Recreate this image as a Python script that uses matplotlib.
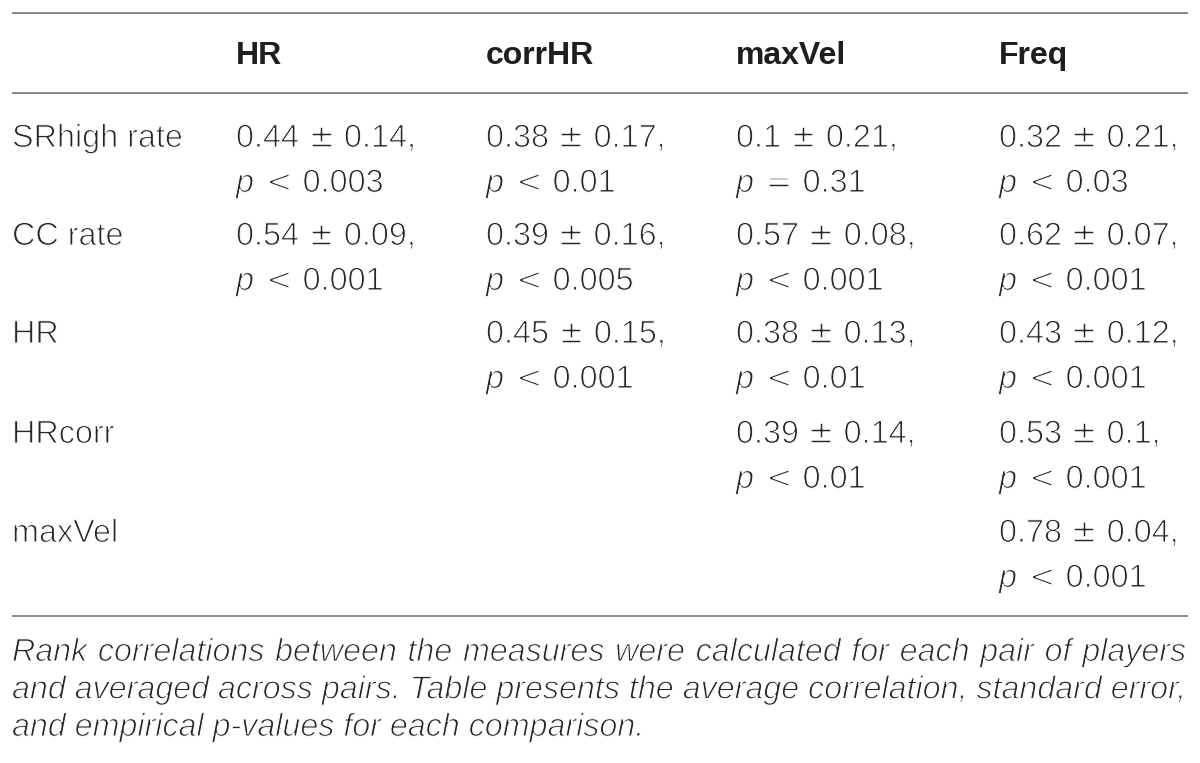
import matplotlib
matplotlib.use("Agg")
import matplotlib.pyplot as plt
import matplotlib.patheffects as pe

# ---- data ----
col_labels = ["HR", "corrHR", "maxVel", "Freq"]
row_labels = ["SRhigh rate", "CC rate", "HR", "HRcorr", "maxVel"]
means = [
    [0.44, 0.38, 0.1, 0.32],
    [0.54, 0.39, 0.57, 0.62],
    [None, 0.45, 0.38, 0.43],
    [None, None, 0.39, 0.53],
    [None, None, None, 0.78],
]
ses = [
    [0.14, 0.17, 0.21, 0.21],
    [0.09, 0.16, 0.08, 0.07],
    [None, 0.15, 0.13, 0.12],
    [None, None, 0.14, 0.1],
    [None, None, None, 0.04],
]
p_ops = [
    ["<", "<", "=", "<"],
    ["<", "<", "<", "<"],
    [None, "<", "<", "<"],
    [None, None, "<", "<"],
    [None, None, None, "<"],
]
p_vals = [
    [0.003, 0.01, 0.31, 0.03],
    [0.001, 0.005, 0.001, 0.001],
    [None, 0.001, 0.01, 0.001],
    [None, None, 0.01, 0.001],
    [None, None, None, 0.001],
]
caption_lines = [
    "Rank correlations between the measures were calculated for each pair of players",
    "and averaged across pairs. Table presents the average correlation, standard error,",
    "and empirical p-values for each comparison.",
]

# ---- style ----
FAM = ["Liberation Sans", "DejaVu Sans"]
SYM = ["DejaVu Sans"]
plt.rcParams["font.family"] = FAM

TXT = "#262626"
LINE = "#8c8c8c"
THIN = [pe.Stroke(linewidth=0.75, foreground="white")]
THIN_SYM = [pe.Stroke(linewidth=1.1, foreground="white")]

fig = plt.figure(figsize=(12, 7.63), dpi=100)
ax = fig.add_axes([0, 0, 1, 1])
ax.set_xlim(0, 1200)
ax.set_ylim(763, 0)
ax.axis("off")
renderer = fig.canvas.get_renderer()

x_left, x_right = 12, 1188
col_x = [236, 486, 736, 999]
header_y = 64
row_y = [147, 245, 343, 443, 542]
line_gap = 45
body_fs = 23.3
head_fs = 23
cap_fs = 23.2


def width_of(t):
    return t.get_window_extent(renderer).width


def draw_seq(x, y, pieces):
    """pieces: list of (text, kwargs, gap_after_px)"""
    for s, kw, gap in pieces:
        t = ax.text(x, y, s, va="baseline", ha="left", color=TXT, **kw)
        x = x + width_of(t) + gap
    return x


for y in (12.5, 93, 616):
    ax.plot([x_left, x_right], [y, y], color=LINE, lw=1.45, solid_capstyle="butt")

for x, lab in zip(col_x, col_labels):
    ax.text(x, header_y, lab, fontsize=head_fs, fontweight="bold", color="#1e1e1e",
            va="baseline", ha="left")

body = dict(fontsize=body_fs, path_effects=THIN)
sym = dict(fontsize=body_fs * 0.98, family=SYM, path_effects=THIN_SYM)
ital = dict(fontsize=body_fs, style="italic", path_effects=THIN)

for i, lab in enumerate(row_labels):
    y = row_y[i]
    ax.text(x_left, y, lab, color=TXT, va="baseline", ha="left", **body)
    for j in range(len(col_labels)):
        m = means[i][j]
        if m is None:
            continue
        s = ses[i][j]
        draw_seq(col_x[j], y, [
            (f"{m:g}", body, 9),
            ("\u00b1", sym, 9),
            (f"{s:g},", body, 0),
        ])
        draw_seq(col_x[j], y + line_gap, [
            ("p", ital, 12),
            (p_ops[i][j], sym, 10),
            (f"{p_vals[i][j]:g}", body, 0),
        ])

cap_y = [661, 698.5, 736]
cap = dict(fontsize=cap_fs, style="italic", path_effects=THIN)
right_edge = 1186
for k, line in enumerate(caption_lines):
    y = cap_y[k]
    if k < len(caption_lines) - 1:
        words = line.split(" ")
        texts = [ax.text(0, y, w, va="baseline", ha="left", color=TXT, **cap)
                 for w in words]
        widths = [width_of(t) for t in texts]
        gap = (right_edge - x_left - sum(widths)) / (len(words) - 1)
        x = x_left
        for t, w in zip(texts, widths):
            t.set_x(x)
            x += w + gap
    else:
        ax.text(x_left, y, line, va="baseline", ha="left", color=TXT, **cap)

fig.savefig("out.png", dpi=100)
